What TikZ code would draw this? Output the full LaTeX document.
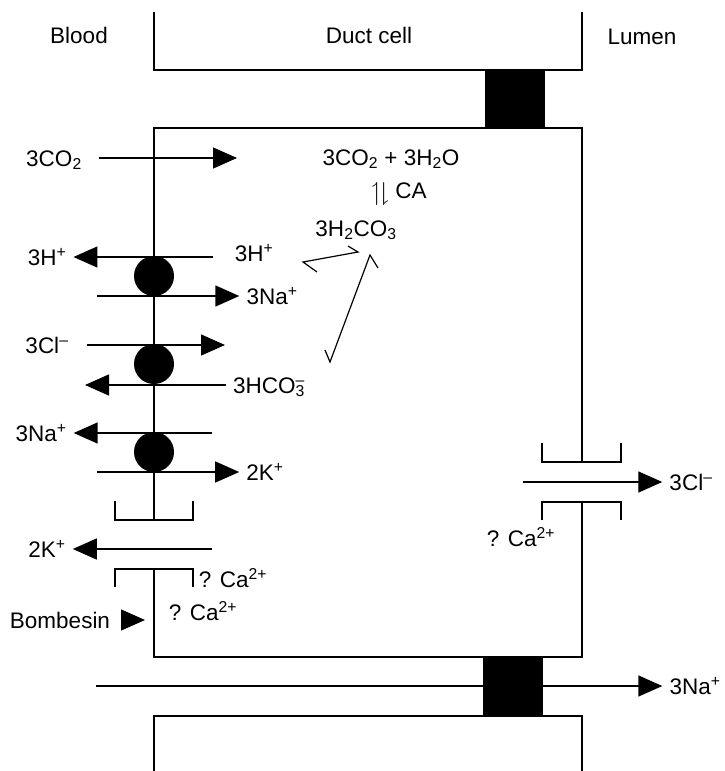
\documentclass[tikz,border=0pt]{standalone}
\usepackage{fontspec}
\usepackage{amssymb}
\setmainfont{Liberation Sans}
\usetikzlibrary{arrows.meta,positioning}
\tikzset{
  wall/.style={line width=1.4pt,line join=miter},
  flux/.style={-{Triangle[length=24pt,width=21pt]},line width=1.4pt},
  rev/.style={line width=1.2pt,line join=miter},
  ion/.style={font=\fontsize{22.5}{27}\selectfont,text height=20pt,text depth=4pt,
              inner xsep=7pt,inner ysep=2pt},
  pump/.style={circle,fill=black,minimum size=40pt,inner sep=0pt},
  junction/.style={fill=black},
}
\newcommand{\negsup}{\textsuperscript{\char"2013}}

\begin{document}
\begin{tikzpicture}[x=1pt,y=-1pt]
    \useasboundingbox (0,0) rectangle (724,771);
    \node[ion] (blood) at (79,35) {Blood};
    \node[ion] (duct) at (369,35) {Duct cell};
    \node[ion] (lumen) at (642,36) {Lumen};
    \draw[wall] (154,12) |- (582,70) -- (582,12);
    \fill[junction] (485,70) rectangle (545,128);
    \draw[wall] (154,520) -- (154,128) -- (582,128) -- (582,462);
    \draw[wall] (115,501) |- (193,520) -- (193,501);
    \draw[wall] (115,587) |- (193,569) -- (193,587);
    \draw[wall] (154,569) |- (582,657) -- (582,502);
    \draw[wall] (542,443) |- (621,462) -- (621,443);
    \draw[wall] (542,520) |- (621,502) -- (621,520);
    \node[pump] (p1) at (154,276) {};
    \node[pump] (p2) at (154,364) {};
    \node[pump] (p3) at (154,452) {};
    \node[ion] (co2) at (54,158) {3CO\textsubscript{2}};
    \coordinate (co2e) at (237,158);
    \draw[flux,shorten <=10pt] (co2) -- (co2e);
    \node[ion] (co2eq) at (391,157) {3CO\textsubscript{2} + 3H\textsubscript{2}O};
    \node[ion] (ca) at (399,190) {\raisebox{-2pt}{\scalebox{1.15}{$\upharpoonleft\!\downharpoonright$}} CA};
    \node[ion] (h2co3) at (356,228) {3H\textsubscript{2}CO\textsubscript{3}};
    \node[ion] (hb) at (47,257) {3H\textsuperscript{+}};
    \node[ion] (hc) at (254,253) {3H\textsuperscript{+}};
    \coordinate (hs) at (213,257);
    \draw[flux] (hs) -- (hb);
    \node[ion] (na1) at (272,296) {3Na\textsuperscript{+}};
    \coordinate (na1s) at (97,296);
    \draw[flux] (na1s) -- (na1);
    \node[ion] (cl1) at (47,345) {3Cl\negsup};
    \coordinate (cl1e) at (225,345);
    \draw[flux,shorten <=11pt] (cl1) -- (cl1e);
    \node[ion,anchor=west] (hco3) at (226,385) {3HCO\textsubscript{3}\llap{\negsup}};
    \coordinate (hco3e) at (85,385);
    \draw[flux] (hco3) -- (hco3e);
    \node[ion] (na2) at (41,433) {3Na\textsuperscript{+}};
    \coordinate (na2s) at (212,433);
    \draw[flux] (na2s) -- (na2);
    \node[ion] (k1) at (265,472) {2K\textsuperscript{+}};
    \coordinate (k1s) at (97,472);
    \draw[flux] (k1s) -- (k1);
    \node[ion] (k2) at (47,549) {2K\textsuperscript{+}};
    \coordinate (k2s) at (212,549);
    \draw[flux] (k2s) -- (k2);
    \node[ion] (ca1) at (233,579) {? Ca\textsuperscript{2+}};
    \node[ion] (ca2) at (203,612) {? Ca\textsuperscript{2+}};
    \node[ion] (bomb) at (60,620) {Bombesin};
    \coordinate (bombtip) at (145,620);
    \draw[flux,shorten <=4pt] (bomb) -- (bombtip);
    \node[ion] (cl2) at (691,482) {3Cl\negsup};
    \coordinate (cl2s) at (523,482);
    \draw[flux] (cl2s) -- (cl2);
    \node[ion] (ca3) at (521,538) {? Ca\textsuperscript{2+}};
    \coordinate (v1a) at (358,252);
    \coordinate (v1b) at (303,262);
    \draw[rev] (v1b) ++(14,10) -- (v1b) -- (v1a) -- ++(-10,-6);
    \coordinate (v2a) at (370,255);
    \coordinate (v2b) at (330,362);
    \draw[rev] (v2a) ++(8,13) -- (v2a) -- (v2b) -- ++(-5,-12);
    \node[ion] (na3) at (695,686) {3Na\textsuperscript{+}};
    \coordinate (na3s) at (96,686);
    \draw[flux] (na3s) -- (na3);
    \fill[junction] (483,657) rectangle (543,716);
    \draw[wall] (154,771) |- (582,716) -- (582,771);
  \end{tikzpicture}
\end{document}
